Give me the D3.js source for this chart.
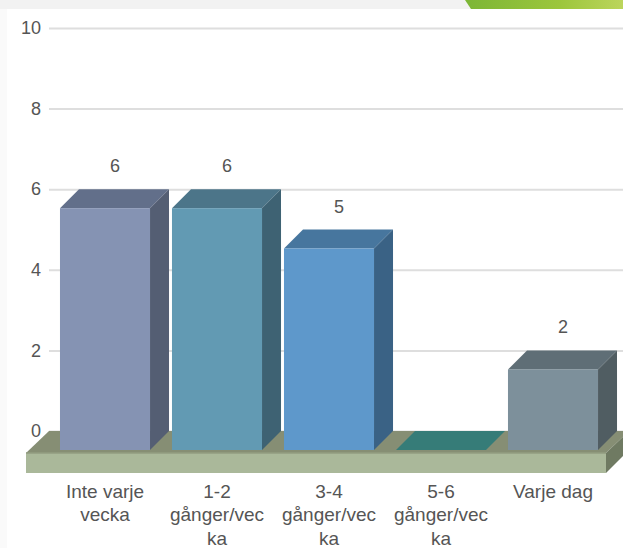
<!DOCTYPE html>
<html><head><meta charset="utf-8">
<script src="https://cdn.jsdelivr.net/npm/d3@7"></script>
<style>html,body{margin:0;padding:0;background:#fff;overflow:hidden}svg{display:block}
text{font-family:"Liberation Sans",Arial,sans-serif;font-size:18px;fill:#555}
text.cat{font-size:19px}</style>
</head><body><svg id="c" width="623" height="548"></svg>
<script>
const categories = ["Inte varje vecka","1-2 gånger/vecka","3-4 gånger/vecka","5-6 gånger/vecka","Varje dag"];
const categoryLines = [["Inte varje","vecka"],["1-2","gånger/vec","ka"],["3-4","gånger/vec","ka"],["5-6","gånger/vec","ka"],["Varje dag"]];
const values = [6,6,5,0,2];
const valueLabels = ["6","6","5","","2"];
const yTicks = [0,2,4,6,8,10];
const frontColors = ["#8593b3","#629ab3","#5e98cb","#367c78","#7d909b"];
const topColors = ["#626f8a","#4c7589","#47769e","#367c78","#5f6e76"];
const sideColors = ["#545e73","#3e6273","#3a6285","#367c78","#505d62"];

const svg = d3.select("#c");
const depth = 19;
const y = d3.scaleLinear().domain([0,10]).range([450,47]);
const x = d3.scaleBand().domain(categories).range([49,609]).paddingInner(0.196).paddingOuter(0.098);

// page backdrop
svg.append("rect").attr("width",7).attr("height",548).attr("fill","#fafafa");
svg.append("rect").attr("width",623).attr("height",9).attr("fill","#f2f2f2");
const g = svg.append("defs").append("linearGradient").attr("id","band");
g.append("stop").attr("offset","0").attr("stop-color","#7cb636");
g.append("stop").attr("offset","0.6").attr("stop-color","#9cc63c");
g.append("stop").attr("offset","1").attr("stop-color","#bcd55c");
svg.append("path").attr("d","M465,0L623,0L623,9L471,9Z").attr("fill","url(#band)");

// grid and y labels (drawn on the back wall)
const axis = d3.axisLeft(y).tickValues(yTicks).tickSize(0).tickPadding(0).tickFormat(d3.format("d"));
const ax = svg.append("g").attr("transform",`translate(${49},${-depth})`).call(axis);
ax.select(".domain").remove();
ax.selectAll(".tick line").attr("x1",0).attr("x2",580).attr("stroke","#dedede").attr("stroke-width",2);
ax.selectAll(".tick text").attr("x",-8).attr("dy","0.32em").attr("fill","#555");

// floor
const fl=26, fr=606, ft=453, fb=473, fd=23;
svg.append("path").attr("d",`M${fl},${ft}L${fl+fd},${ft-fd+1}L${fr+fd},${ft-fd+1}L${fr},${ft}Z`).attr("fill","#868e74");
svg.append("path").attr("d",`M${fr},${ft}L${fr+fd},${ft-fd+1}L${fr+fd},${fb-fd}L${fr},${fb}Z`).attr("fill","#6f7a62");
svg.append("rect").attr("x",fl).attr("y",ft).attr("width",fr-fl).attr("height",fb-ft).attr("fill","#aab89a");
svg.append("line").attr("x1",fl).attr("x2",fr).attr("y1",ft).attr("y2",ft).attr("stroke","#929c80").attr("stroke-width",1.5);

// bars
const bars = svg.selectAll("g.bar").data(values).join("g").attr("class","bar");
bars.append("path").attr("fill",(d,i)=>topColors[i]).attr("d",(d,i)=>{
  const a=x(categories[i]),w=x.bandwidth(),t=y(d);
  return `M${a},${t}L${a+depth},${t-depth}L${a+w+depth},${t-depth}L${a+w},${t}Z`;});
bars.each(function(d,i){
  if(d<=0) return;
  const a=x(categories[i]),w=x.bandwidth(),t=y(d),b=y(0);
  const s=d3.select(this);
  s.append("path").attr("fill",sideColors[i])
    .attr("d",`M${a+w},${t}L${a+w+depth},${t-depth}L${a+w+depth},${b-depth}L${a+w},${b}Z`);
  s.append("rect").attr("x",a).attr("y",t).attr("width",w).attr("height",b-t).attr("fill",frontColors[i]);
});

// value labels
svg.selectAll("text.val").data(valueLabels).join("text").attr("class","val")
  .attr("text-anchor","middle")
  .attr("x",(d,i)=>x(categories[i])+x.bandwidth()/2+10)
  .attr("y",(d,i)=>y(values[i])-36)
  .text(d=>d);

// category labels
const labels = svg.selectAll("text.cat").data(categoryLines).join("text").attr("class","cat")
  .attr("text-anchor","middle");
labels.each(function(lines,i){
  const cx=x(categories[i])+x.bandwidth()/2;
  d3.select(this).selectAll("tspan").data(lines).join("tspan")
    .attr("x",cx).attr("y",(l,j)=>498+j*23.4).text(l=>l);
});
</script></body></html>
